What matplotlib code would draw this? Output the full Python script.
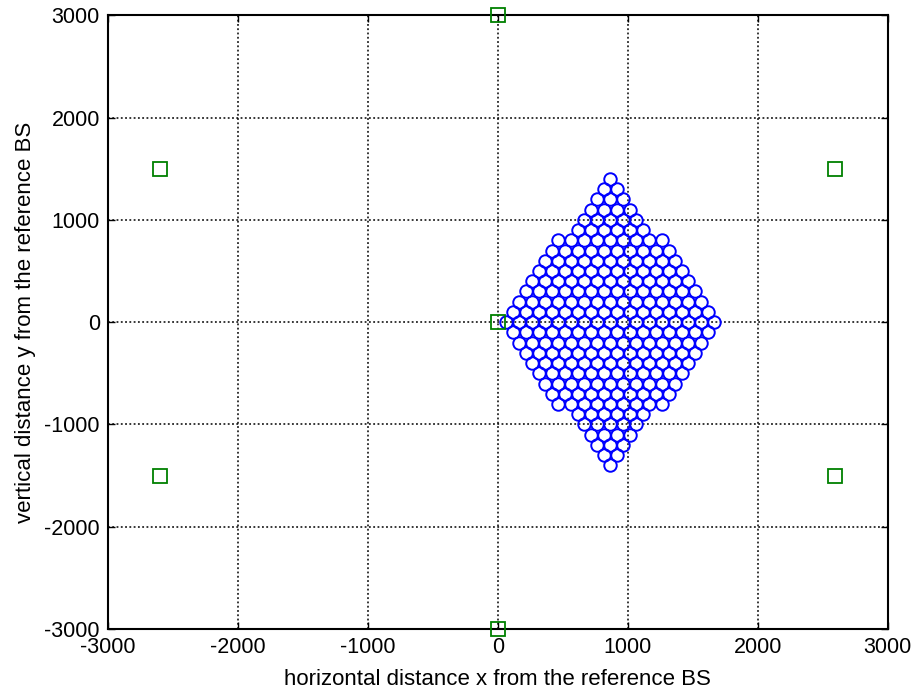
import matplotlib
matplotlib.use('Agg')
import matplotlib.pyplot as plt

# base station positions (green squares)
bs_x = [0, 0, 0, 2598, 2598, -2598, -2598]
bs_y = [0, 3000, -3000, 1500, -1500, 1500, -1500]

# user positions, one list of x per row, rows read top to bottom
row_y = [1400, 1300, 1200, 1100, 1000, 900, 800, 700, 600, 500, 400, 300, 200, 100, 0,
         -100, -200, -300, -400, -500, -600, -700, -800, -900, -1000, -1100, -1200, -1300, -1400]
row_x = [
    [866],
    [816, 916],
    [766, 866, 966],
    [716, 816, 916, 1016],
    [666, 766, 866, 966, 1066],
    [616, 716, 816, 916, 1016, 1116],
    [466, 566, 666, 766, 866, 966, 1066, 1166, 1266],
    [416, 516, 616, 716, 816, 916, 1016, 1116, 1216, 1316],
    [366, 466, 566, 666, 766, 866, 966, 1066, 1166, 1266, 1366],
    [316, 416, 516, 616, 716, 816, 916, 1016, 1116, 1216, 1316, 1416],
    [266, 366, 466, 566, 666, 766, 866, 966, 1066, 1166, 1266, 1366, 1466],
    [216, 316, 416, 516, 616, 716, 816, 916, 1016, 1116, 1216, 1316, 1416, 1516],
    [166, 266, 366, 466, 566, 666, 766, 866, 966, 1066, 1166, 1266, 1366, 1466, 1566],
    [116, 216, 316, 416, 516, 616, 716, 816, 916, 1016, 1116, 1216, 1316, 1416, 1516, 1616],
    [66, 166, 266, 366, 466, 566, 666, 766, 866, 966, 1066, 1166, 1266, 1366, 1466, 1566, 1666],
    [116, 216, 316, 416, 516, 616, 716, 816, 916, 1016, 1116, 1216, 1316, 1416, 1516, 1616],
    [166, 266, 366, 466, 566, 666, 766, 866, 966, 1066, 1166, 1266, 1366, 1466, 1566],
    [216, 316, 416, 516, 616, 716, 816, 916, 1016, 1116, 1216, 1316, 1416, 1516],
    [266, 366, 466, 566, 666, 766, 866, 966, 1066, 1166, 1266, 1366, 1466],
    [316, 416, 516, 616, 716, 816, 916, 1016, 1116, 1216, 1316, 1416],
    [366, 466, 566, 666, 766, 866, 966, 1066, 1166, 1266, 1366],
    [416, 516, 616, 716, 816, 916, 1016, 1116, 1216, 1316],
    [466, 566, 666, 766, 866, 966, 1066, 1166, 1266],
    [616, 716, 816, 916, 1016, 1116],
    [666, 766, 866, 966, 1066],
    [716, 816, 916, 1016],
    [766, 866, 966],
    [816, 916],
    [866],
]

ticks = [-3000, -2000, -1000, 0, 1000, 2000, 3000]

plt.rcParams['font.family'] = ['Liberation Sans', 'DejaVu Sans']
plt.rcParams['axes.unicode_minus'] = False

fig = plt.figure(figsize=(9.16, 6.95), dpi=100)
ax = fig.add_axes([0.118, 0.095, 0.851, 0.883])

ue_x = []
ue_y = []
for y, xs in zip(row_y, row_x):
    ue_x += xs
    ue_y += [y] * len(xs)

ax.plot(ue_x, ue_y, 'o', color='blue', mfc='none', ms=9, mew=1.4, zorder=3)
ax.plot(bs_x, bs_y, 's', color='#008000', mfc='none', ms=10, mew=1.3, zorder=4,
        clip_on=False)

ax.set_xlim(-3000, 3000)
ax.set_ylim(-3000, 3000)
ax.set_xticks(ticks)
ax.set_yticks(ticks)
ax.grid(True, color='black', linestyle=(0, (1.2, 1.6)), linewidth=1.1)
ax.set_axisbelow(True)
ax.tick_params(direction='in', length=5, width=1, top=True, right=True,
               labelsize=15.5)
ax.tick_params(axis='x', pad=6)
ax.tick_params(axis='y', pad=6)
for s in ax.spines.values():
    s.set_linewidth(1.5)

ax.set_xlabel('horizontal distance x from the reference BS', fontsize=16, labelpad=8)
ax.set_ylabel('vertical distance y from the reference BS', fontsize=16, labelpad=6)

fig.savefig('out.png', dpi=100)
